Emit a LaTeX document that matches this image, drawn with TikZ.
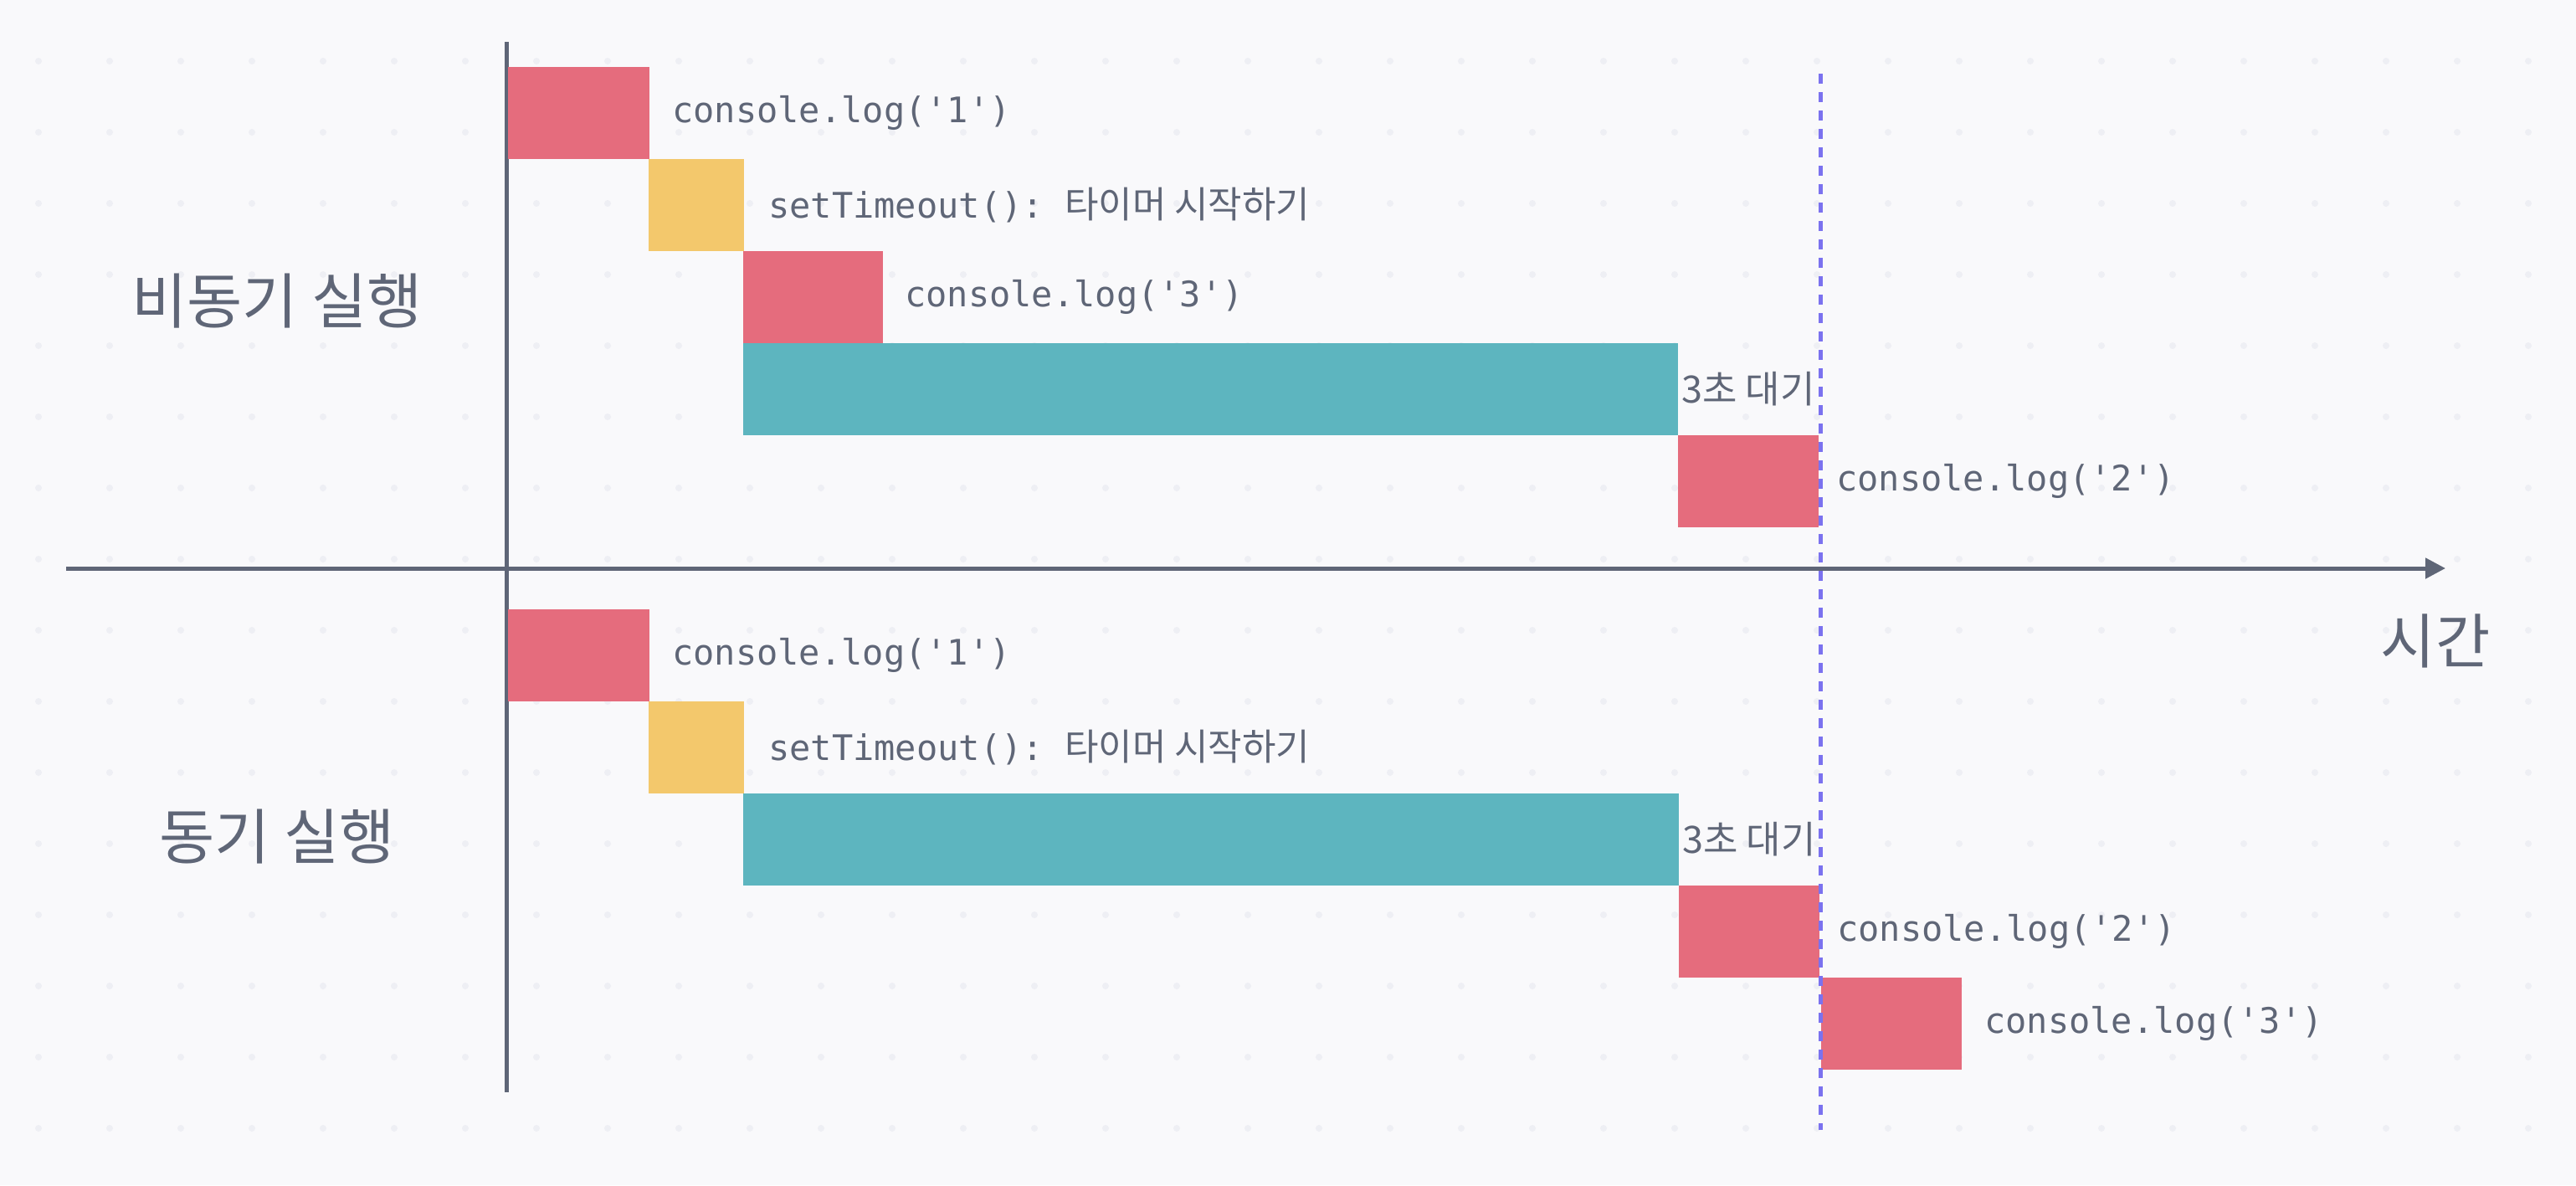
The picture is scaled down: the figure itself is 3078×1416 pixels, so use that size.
\documentclass[tikz,border=0pt]{standalone}
\usepackage{fontspec}
\usetikzlibrary{arrows.meta}
\newfontfamily\mono{DejaVu Sans Mono}
\newfontfamily\kr{Noto Sans CJK KR}
\definecolor{bgc}{HTML}{F9F9FB}
\definecolor{dotc}{HTML}{EEEFF4}
\definecolor{redc}{HTML}{E56C7D}
\definecolor{yelc}{HTML}{F3C86C}
\definecolor{tealc}{HTML}{5DB5BF}
\definecolor{inkc}{HTML}{5F6677}
\definecolor{dashc}{HTML}{7B72EF}
\tikzset{
  blk/.style={rectangle, inner sep=0pt, outer sep=0pt, anchor=north west, minimum height=110pt},
  redbox/.style={blk, fill=redc},
  yelbox/.style={blk, fill=yelc},
  tealbox/.style={blk, fill=tealc},
  codelbl/.style={anchor=west, inner sep=0pt, text=inkc, font=\mono\fontsize{42}{50}\selectfont},
  krlbl/.style={anchor=west, inner sep=0pt, text=inkc, font=\kr\fontsize{45}{54}\selectfont},
  biglbl/.style={inner sep=0pt, text=inkc, font=\kr\fontsize{72}{86}\selectfont},
  axisline/.style={draw=inkc, line width=5pt}
}
\begin{document}
\begin{tikzpicture}[x=1pt,y=-1pt]
\fill[bgc] (0,0) rectangle (3078,1416);
\useasboundingbox (0,0) rectangle (3078,1416);
% dot grid
\foreach \i in {0,...,35}{
  \foreach \j in {0,...,15}{
    \fill[dotc] (46+85*\i,73+85*\j) circle (4pt);
  }
}
% axes
\coordinate (vtop) at (605,50);
\coordinate (vbot) at (605,1305);
\coordinate (hleft) at (79,679);
\coordinate (hright) at (2922,679);
\draw[axisline] (vtop) -- (vbot);
\draw[axisline, -{Triangle[length=24pt,width=24pt]}] (hleft) -- (hright);

% async section
\node[redbox, minimum width=169pt] (a1) at (607,80) {};
\node[yelbox, minimum width=114pt] (a2) at (775,190) {};
\node[redbox, minimum width=167pt] (a3) at (888,300) {};
\node[tealbox, minimum width=1117pt] (a4) at (888,410) {};
\node[redbox, minimum width=168pt] (a5) at (2005,520) {};
\node[codelbl] (la1) at ([xshift=27pt]a1.east) {console.log('1')};
\node[codelbl] (la2) at ([xshift=29pt]a2.east) {setTimeout():~{\kr\fontsize{44}{53}\selectfont 타이머 시작하기}};
\node[codelbl] (la3) at ([xshift=26pt]a3.east) {console.log('3')};
\node[krlbl] (la4) at ([xshift=4pt]a4.east) {3초 대기};
\node[codelbl] (la5) at ([xshift=21pt]a5.east) {console.log('2')};

% sync section
\node[redbox, minimum width=169pt] (b1) at (607,728) {};
\node[yelbox, minimum width=114pt] (b2) at (775,838) {};
\node[tealbox, minimum width=1118pt] (b3) at (888,948) {};
\node[redbox, minimum width=168pt] (b4) at (2006,1058) {};
\node[redbox, minimum width=168pt] (b5) at (2176,1168) {};
\node[codelbl] (lb1) at ([xshift=27pt]b1.east) {console.log('1')};
\node[codelbl] (lb2) at ([xshift=29pt]b2.east) {setTimeout():~{\kr\fontsize{44}{53}\selectfont 타이머 시작하기}};
\node[krlbl] (lb3) at ([xshift=4pt]b3.east) {3초 대기};
\node[codelbl] (lb4) at ([xshift=21pt]b4.east) {console.log('2')};
\node[codelbl] (lb5) at ([xshift=27pt]b5.east) {console.log('3')};

% side labels
\node[biglbl] (asynclbl) at (331,360) {비동기 실행};
\node[biglbl] (synclbl) at (331,1000) {동기 실행};
\node[biglbl, font=\kr\fontsize{71}{85}\selectfont] (timelbl) at (2910,766) {시간};

% dashed marker
\coordinate (dtop) at (2175,88);
\coordinate (dbot) at (2175,1350);
\draw[dashc, line width=5pt, dash pattern=on 12pt off 10pt] (dtop) -- (dbot);
\end{tikzpicture}
\end{document}
